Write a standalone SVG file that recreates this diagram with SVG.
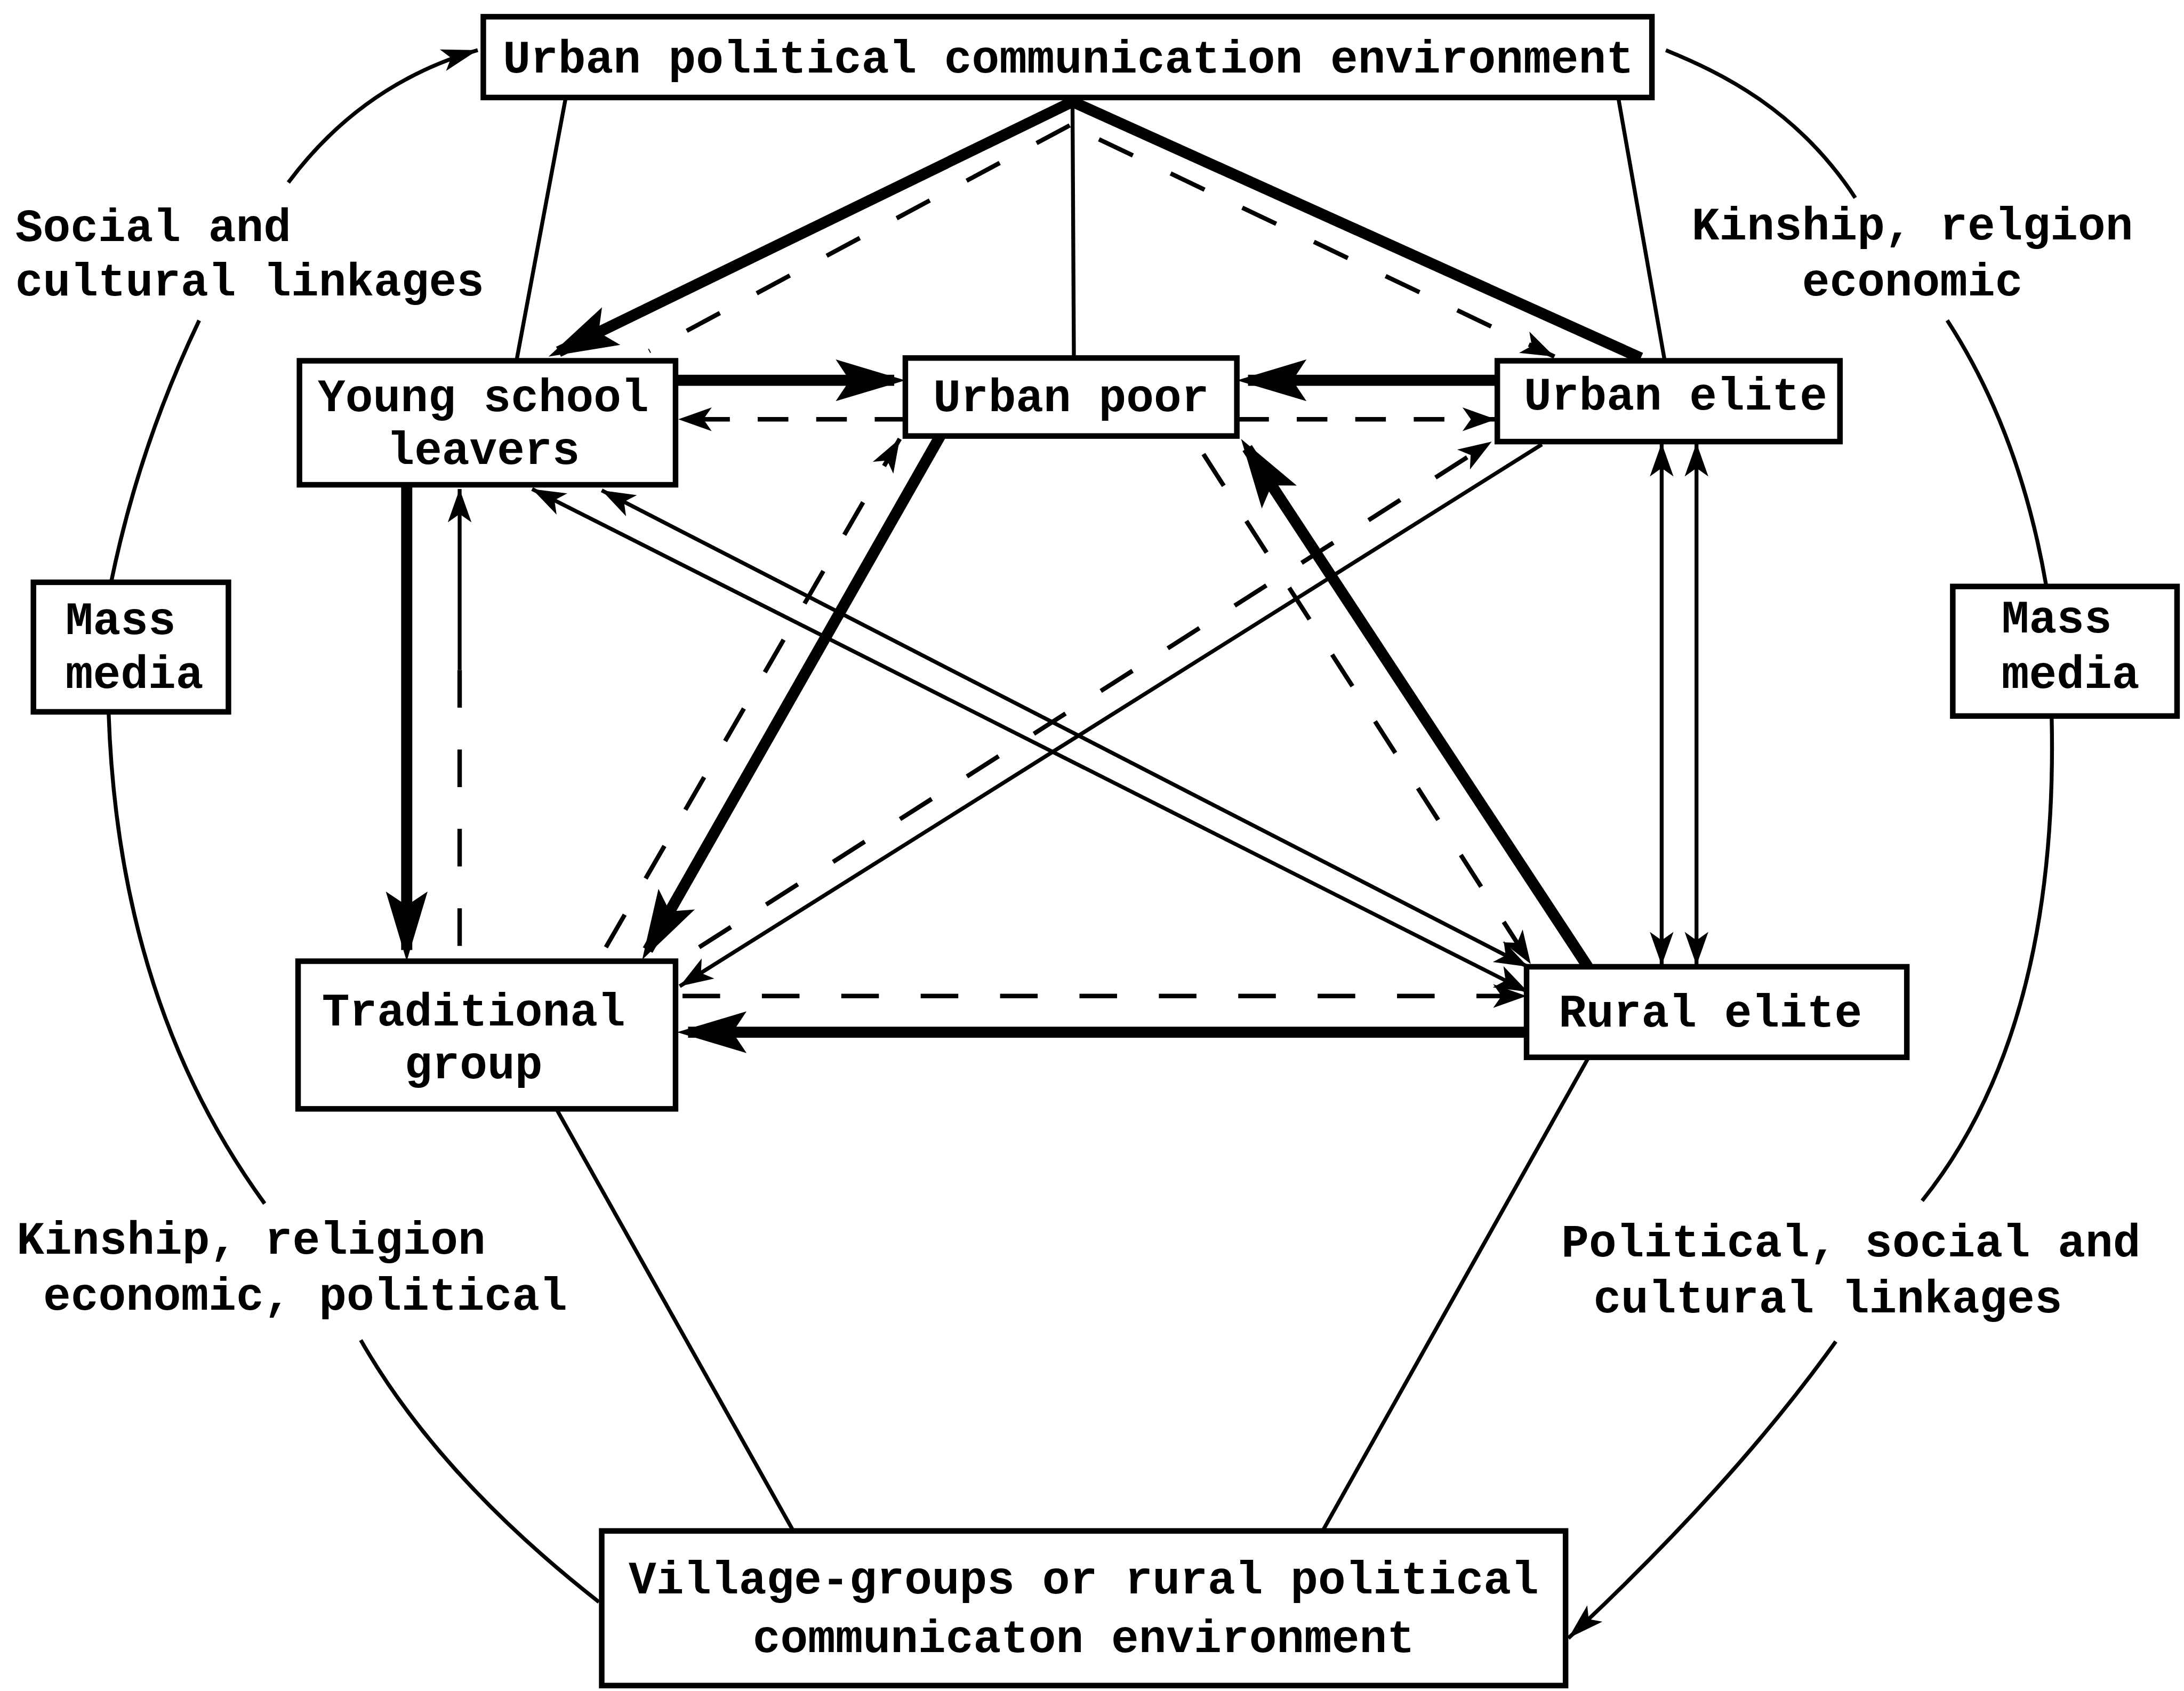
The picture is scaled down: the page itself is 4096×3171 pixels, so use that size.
<svg xmlns="http://www.w3.org/2000/svg" width="4096" height="3171" viewBox="0 0 4096 3171">
<defs>
<style>
.box{fill:#fff;stroke:#000;stroke-width:4}
.t{font-family:"Liberation Mono","DejaVu Sans Mono",monospace;font-size:33px;font-weight:bold;fill:#000}
.c{text-anchor:middle}
.thin{fill:none;stroke:#000;stroke-width:2.8}
.dash{fill:none;stroke:#000;stroke-width:3.2;stroke-dasharray:27 30}
.dash2{fill:none;stroke:#000;stroke-width:3.2;stroke-dasharray:22 20}
.thick{fill:none;stroke:#000;stroke-width:8;stroke-linejoin:miter}
.ah{marker-end:url(#sm)}
.ah2{marker-start:url(#sm);marker-end:url(#sm)}
.ahb{marker-end:url(#big)}
.ahm{marker-end:url(#mid)}
</style>
<marker id="big" markerUnits="userSpaceOnUse" orient="auto" markerWidth="52" markerHeight="30" refX="42" refY="15" overflow="visible"><path d="M0,0 L50,15 L0,30 L10,15 Z" fill="#000"/></marker>
<marker id="sm" markerUnits="userSpaceOnUse" orient="auto-start-reverse" markerWidth="26" markerHeight="17" refX="24" refY="8.5" overflow="visible"><path d="M0,0 L24,8.5 L0,17 L6,8.5 Z" fill="#000"/></marker>
<marker id="mid" markerUnits="userSpaceOnUse" orient="auto" markerWidth="28" markerHeight="16" refX="26" refY="8" overflow="visible"><path d="M0,0 L26,8 L0,16 L6,8 Z" fill="#000"/></marker>
</defs>
<rect x="0" y="0" width="4096" height="3171" fill="#fff"/>
<g transform="scale(2.61224)">
<g id="connectors">
<!-- thin structural lines -->
<line class="thin" x1="406" y1="71" x2="371" y2="258"/>
<line class="thin" x1="1162" y1="71" x2="1195" y2="258"/>
<line class="thin" x1="770" y1="72" x2="771" y2="257"/>
<line class="thin" x1="400" y1="797" x2="569" y2="1098"/>
<line class="thin" x1="1140" y1="760" x2="949" y2="1100"/>
<!-- outer curves -->
<path class="thin ahm" d="M207,131 Q260,60 343,36"/>
<path class="thin" d="M143,230 Q100,320 80,417"/>
<path class="thin" d="M78,512 Q85,720 190,864"/>
<path class="thin" d="M259,962 Q315,1060 430,1150"/>
<path class="thin" d="M1196,36 C1235,52 1290,78 1332,142"/>
<path class="thin" d="M1398,230 Q1450,310 1469,420"/>
<path class="thin" d="M1473,515 Q1478,740 1380,862"/>
<path class="thin ahm" d="M1318,963 Q1245,1065 1126,1176"/>
<!-- thick arrows -->
<path class="thick ahb" d="M1178,257 L770,73 L401,252.5"/>
<line class="thick ahb" x1="485" y1="273" x2="642" y2="273"/>
<line class="thick ahb" x1="1075" y1="273" x2="896" y2="273"/>
<line class="thick ahb" x1="292" y1="348" x2="292" y2="682"/>
<line class="thick ahb" x1="675" y1="313" x2="465" y2="682"/>
<line class="thick ahb" x1="1140" y1="694" x2="895.4" y2="321.7"/>
<line class="thick ahb" x1="1096" y1="741" x2="494" y2="741"/>
<!-- dashed arrows -->
<line class="dash" x1="768" y1="90" x2="466" y2="252"/>
<line class="dash ah" x1="789" y1="100" x2="1116" y2="256"/>
<line class="dash2 ah" x1="650" y1="301" x2="487" y2="301"/>
<line class="dash2 ah" x1="889" y1="301" x2="1074" y2="301"/>
<line class="dash ah" x1="435" y1="680" x2="646" y2="315"/>
<line class="dash ah" x1="502" y1="680" x2="1071" y2="317"/>
<line class="dash ah" x1="864" y1="326" x2="1099" y2="692"/>
<line class="dash ah" x1="490" y1="715" x2="1096" y2="715"/>
<line class="dash" x1="330" y1="679" x2="330" y2="481"/>
<line class="thin ah" x1="330" y1="481" x2="330" y2="351"/>
<!-- thin solid arrows -->
<line class="thin ah" x1="1107" y1="319" x2="488" y2="708"/>
<line class="thin ah2" x1="432" y1="352" x2="1097" y2="694"/>
<line class="thin ah2" x1="382" y1="351" x2="1097" y2="712"/>
<line class="thin ah2" x1="1193" y1="318" x2="1193" y2="693"/>
<line class="thin ah2" x1="1218" y1="318" x2="1218" y2="693"/>
</g>
<g id="urban-env">
<rect class="box" x="347" y="12" width="839" height="58"/>
<text class="t c" x="767" y="52">Urban political communication environment</text>
</g>
<g id="young">
<rect class="box" x="215" y="259" width="270" height="89"/>
<text class="t c" x="347" y="295">Young school</text>
<text class="t c" x="347" y="333">leavers</text>
</g>
<g id="urban-poor">
<rect class="box" x="650" y="257" width="238" height="56"/>
<text class="t c" x="769" y="295">Urban poor</text>
</g>
<g id="urban-elite">
<rect class="box" x="1075" y="259" width="246" height="58"/>
<text class="t c" x="1203" y="294">Urban elite</text>
</g>
<g id="traditional">
<rect class="box" x="214" y="690" width="271" height="106"/>
<text class="t c" x="340" y="736">Traditional</text>
<text class="t c" x="340" y="774">group</text>
</g>
<g id="rural-elite">
<rect class="box" x="1096" y="694" width="273" height="65"/>
<text class="t c" x="1228" y="737">Rural elite</text>
</g>
<g id="village-env">
<rect class="box" x="432" y="1099" width="692" height="111"/>
<text class="t c" x="778" y="1144">Village-groups or rural political</text>
<text class="t c" x="778" y="1186">communicaton environment</text>
</g>
<g id="mass-media-left">
<rect class="box" x="24" y="418" width="140" height="93"/>
<text class="t" x="47" y="455">Mass</text>
<text class="t" x="47" y="494">media</text>
</g>
<g id="mass-media-right">
<rect class="box" x="1402" y="421" width="161" height="93"/>
<text class="t" x="1437" y="454">Mass</text>
<text class="t" x="1437" y="494">media</text>
</g>
<g id="labels">
<text class="t" x="11" y="173">Social and</text>
<text class="t" x="11" y="212">cultural linkages</text>
<text class="t c" x="1373" y="172">Kinship, relgion</text>
<text class="t c" x="1373" y="212">economic</text>
<text class="t" x="12" y="900">Kinship, religion</text>
<text class="t" x="31" y="940">economic, political</text>
<text class="t" x="1121" y="902">Political, social and</text>
<text class="t" x="1144" y="942">cultural linkages</text>
</g>
</g>
</svg>
